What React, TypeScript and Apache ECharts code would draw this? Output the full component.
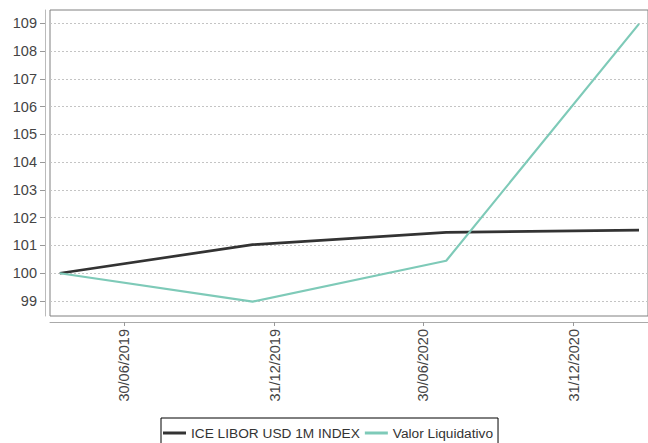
import React, { useEffect, useRef } from "react";
import * as echarts from "echarts";

// Observation dates (dd/mm/yyyy) and the two rebased series
const obsDates = ["12/04/2019", "04/12/2019", "28/07/2020", "21/03/2021"];
const liborIndex = [100, 101.03, 101.47, 101.55];
const valorLiquidativo = [100, 98.98, 100.45, 108.98];

// Axis ticks
const xTickLabels = ["30/06/2019", "31/12/2019", "30/06/2020", "31/12/2020"];
const yTickLabels = [99, 100, 101, 102, 103, 104, 105, 106, 107, 108, 109];
const xRange = ["31/03/2019", "01/04/2021"];
const yRange = [98.46, 109.48];

const seriesNames = ["ICE LIBOR USD 1M INDEX", "Valor Liquidativo"];

const parseDate = (s: string) => {
  const [d, m, y] = s.split("/").map(Number);
  return new Date(y, m - 1, d).getTime();
};
const pad = (n: number) => (n < 10 ? "0" + n : "" + n);
const fmtDate = (v: number) => {
  const d = new Date(v);
  return `${pad(d.getDate())}/${pad(d.getMonth() + 1)}/${d.getFullYear()}`;
};

const FONT = "'Liberation Sans', Arial, sans-serif";

export default function App() {
  const ref = useRef<HTMLDivElement>(null);

  useEffect(() => {
    if (!ref.current) return;
    const chart = echarts.init(ref.current, null, { renderer: "svg" });
    const xs = obsDates.map(parseDate);
    const xTicks = xTickLabels.map(parseDate);

    chart.setOption({
      animation: false,
      backgroundColor: "#ffffff",
      textStyle: { fontFamily: FONT },
      grid: {
        left: 50,
        top: 10,
        right: -2,
        bottom: 127,
        show: true,
        borderColor: "#808080",
        borderWidth: 1,
        containLabel: false,
      },
      legend: {
        left: 161,
        top: 418,
        padding: [8, 5, 10, 2],
        itemGap: 5,
        itemWidth: 23,
        itemHeight: 3,
        icon: "rect",
        borderColor: "#000",
        borderWidth: 1,
        textStyle: { fontSize: 13.7, color: "#333", fontFamily: FONT },
        data: seriesNames,
      },
      xAxis: {
        // dates are plotted as timestamps on a linear axis
        type: "value",
        min: parseDate(xRange[0]),
        max: parseDate(xRange[1]),
        offset: 6,
        axisLine: { show: true, lineStyle: { color: "#aaaaaa", width: 1 } },
        axisTick: {
          show: true,
          length: 4,
          lineStyle: { color: "#999999" },
          customValues: xTicks,
        },
        axisLabel: {
          rotate: 90,
          margin: 7,
          fontSize: 14.5,
          color: "#444",
          fontFamily: FONT,
          customValues: xTicks,
          formatter: (v: number) => fmtDate(v),
        },
        splitLine: { show: false },
      },
      yAxis: {
        type: "value",
        min: yRange[0],
        max: yRange[1],
        offset: 5,
        axisLine: { show: true, lineStyle: { color: "#bbbbbb", width: 1 } },
        axisTick: {
          show: true,
          length: 5,
          lineStyle: { color: "#999999" },
          customValues: yTickLabels,
        },
        axisLabel: {
          margin: 8,
          fontSize: 14.5,
          color: "#444",
          fontFamily: FONT,
          customValues: yTickLabels,
        },
        splitLine: {
          show: true,
          lineStyle: { color: "#c4c4c4", type: [2, 2], width: 1 },
        },
      },
      series: [
        {
          name: seriesNames[0],
          type: "line",
          symbol: "none",
          color: "#333333",
          lineStyle: { width: 2.7, color: "#333333" },
          data: xs.map((x, i) => [x, liborIndex[i]]),
        },
        {
          name: seriesNames[1],
          type: "line",
          symbol: "none",
          color: "#7ecab8",
          lineStyle: { width: 2.2, color: "#7ecab8" },
          data: xs.map((x, i) => [x, valorLiquidativo[i]]),
        },
      ],
    });

    return () => chart.dispose();
  }, []);

  return (
    <div
      ref={ref}
      style={{ position: "absolute", left: 0, top: 0, width: 648, height: 443, overflow: "hidden" }}
    />
  );
}
